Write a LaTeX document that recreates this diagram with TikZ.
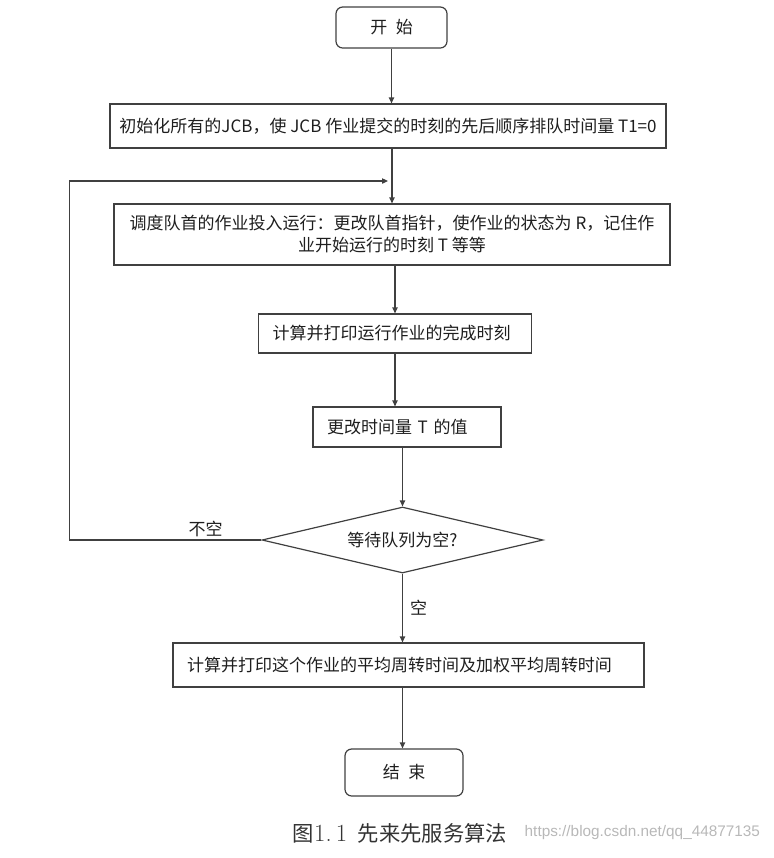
\documentclass[tikz,border=0pt]{standalone}
\usepackage{fontspec}
\newfontfamily\cjkfont{Noto Sans CJK SC}
\newfontfamily\wmfont{Liberation Sans}
\usepackage{tikz}
\usetikzlibrary{shapes.geometric}
\usetikzlibrary{arrows.meta}
\usepackage{xcolor}
\definecolor{linegray}{RGB}{64,64,64}
\definecolor{textdark}{RGB}{30,30,30}

\begin{document}
\begin{tikzpicture}[x=0.75pt,y=0.75pt,yscale=-1,xscale=1,
  every node/.style={font=\cjkfont\fontsize{12.75}{16.5}\selectfont, text=textdark},
  flowbox/.style={draw=linegray, line width=0.9pt, inner ysep=0pt},
  leftbox/.style={flowbox, align=left, inner xsep=10.5pt},
  termbox/.style={flowbox, rounded corners=5pt},
  decide/.style={draw=linegray, line width=0.9pt, diamond, aspect=4.26, inner sep=0pt},
  flowline/.style={draw=linegray, line width=0.9pt, -{Triangle[length=4.5pt,width=4pt]}}]
%uncomment if require: \path (0,858); %set diagram left start at 0, and has height of 858
\useasboundingbox (0,0) rectangle (774,858);

%Shape: Rounded Rect
\node [termbox, minimum width=83.25pt, minimum height=30.75pt] (start) at (391.5,27.5) {开\enspace 始};
%Shape: Rectangle
\node [flowbox, align=center, minimum width=417pt, minimum height=33pt] (init) at (388,126) {初始化所有的JCB，使 JCB 作业提交的时刻的先后顺序排队时间量 T1=0};
%Shape: Rectangle
\node [flowbox, align=center, minimum width=417pt, minimum height=45.75pt, inner xsep=3pt] (sched) at (392,234.5) {调度队首的作业投入运行：更改队首指针，使作业的状态为 R，记住作\\业开始运行的时刻 T 等等};
%Shape: Rectangle
\node [leftbox, text width=183.75pt, minimum height=29.25pt] (finish) at (395,333.5) {计算并打印运行作业的完成时刻};
%Shape: Rectangle
\node [leftbox, text width=120pt, minimum height=30pt] (update) at (407,427) {更改时间量 T 的值};
%Shape: Diamond
\node [decide, minimum width=210.75pt, minimum height=49.5pt] (check) at (402.5,540) {等待队列为空?};
%Shape: Rectangle
\node [leftbox, text width=332.25pt, minimum height=33pt] (stats) at (408.5,665) {计算并打印这个作业的平均周转时间及加权平均周转时间};
%Shape: Rounded Rect
\node [termbox, minimum width=88.5pt, minimum height=35.25pt] (stop) at (404,772.5) {结\enspace 束};

%Straight Lines
\draw [flowline] (start.south) -- (start.south |- init.north);
%Straight Lines
\draw [flowline] (sched.north |- init.south) -- (sched.north);
%Straight Lines
\draw [flowline] (finish.north |- sched.south) -- (finish.north);
%Straight Lines
\draw [flowline] (finish.south) -- (finish.south |- update.north);
%Straight Lines
\draw [flowline] (check.north |- update.south) -- (check.north);
%Straight Lines
\draw [flowline] (check.south) -- (check.south |- stats.north) node [midway, right, xshift=2pt] {空};
%Straight Lines
\draw [flowline] (check.south |- stats.south) -- (check.south |- stop.north);
%Straight Lines
\coordinate (back) at (388,181);
\draw [flowline] (check.west) -- ++(-192,0) node [pos=0.29, above, inner sep=2pt] {不空} |- (back);

% Text Node
\node [font=\cjkfont\fontsize{16}{19}\selectfont, text=black!80] (caption) at (400,833) {图{\normalfont\fontsize{18.5}{19}\selectfont 1.\,1}\enspace 先来先服务算法};
% Text Node
\node [anchor=west, font=\wmfont\fontsize{11.5}{14}\selectfont, text=black!28] (mark) at (520,833) {https://blog.csdn.net/qq\_44877135};

\end{tikzpicture}
\end{document}
